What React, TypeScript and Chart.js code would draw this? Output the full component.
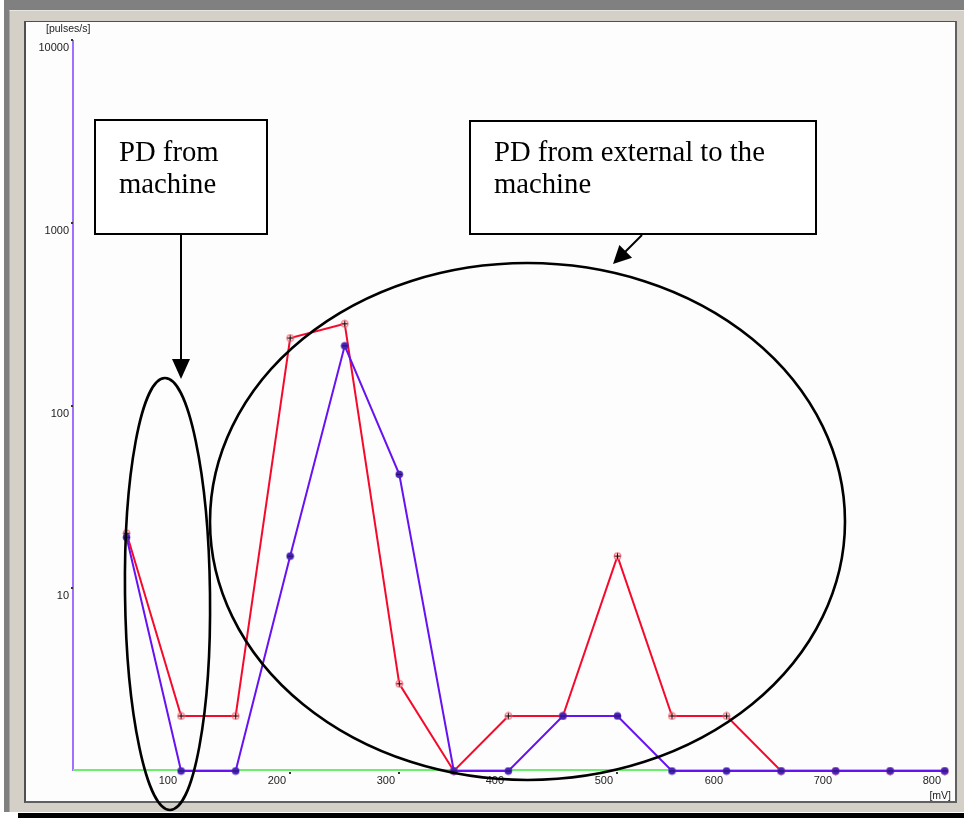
import React, { useEffect, useRef } from "react";
import { Chart, registerables } from "chart.js";

Chart.register(...registerables);

// Pulse amplitude bins [mV]
const amplitudes = [50, 100, 150, 200, 250, 300, 350, 400, 450, 500, 550, 600, 650, 700, 750, 800];
// Pulse repetition rate per bin [pulses/s]
const seriesA = [20, 2, 2, 234, 280, 3, 0, 2, 2, 15, 2, 2, 0, 0, 0, 0];
const seriesB = [19, 0, 0, 15, 212, 42, 0, 0, 2, 2, 0, 0, 0, 0, 0, 0];

const xTicks = [100, 200, 300, 400, 500, 600, 700, 800];
const yTicks = [10, 100, 1000, 10000];
const xUnit = "[mV]";
const yUnit = "[pulses/s]";

const machineLines = ["PD from", "machine"];
const externalLines = ["PD from external to the", "machine"];

const Y_MIN = 1;
const Y_MAX = 10000;
const X_MIN = 0;
const X_MAX = 803;

const RED = "#f50a2c";
const BLUE = "#6612f2";

function makeRedMarker(): HTMLCanvasElement {
  const c = document.createElement("canvas");
  c.width = 9;
  c.height = 9;
  const g = c.getContext("2d")!;
  g.beginPath();
  g.arc(4.5, 4.5, 3.5, 0, Math.PI * 2);
  g.fillStyle = "rgba(255,190,195,0.7)";
  g.fill();
  g.strokeStyle = "#ff6070";
  g.lineWidth = 1;
  g.stroke();
  g.strokeStyle = "#111";
  g.beginPath();
  g.moveTo(1.5, 4.5);
  g.lineTo(7.5, 4.5);
  g.moveTo(4.5, 1.5);
  g.lineTo(4.5, 7.5);
  g.stroke();
  return c;
}

function makeBlueMarker(): HTMLCanvasElement {
  const c = document.createElement("canvas");
  c.width = 9;
  c.height = 9;
  const g = c.getContext("2d")!;
  g.beginPath();
  g.arc(4.5, 4.5, 3.8, 0, Math.PI * 2);
  g.fillStyle = "#4a22b8";
  g.fill();
  g.strokeStyle = "#1a1060";
  g.lineWidth = 1;
  g.beginPath();
  g.moveTo(1.5, 4.5);
  g.lineTo(7.5, 4.5);
  g.stroke();
  return c;
}

function arrowHead(ctx: CanvasRenderingContext2D, x1: number, y1: number, x2: number, y2: number, len: number, half: number) {
  const a = Math.atan2(y2 - y1, x2 - x1);
  const bx = x2 - Math.cos(a) * len;
  const by = y2 - Math.sin(a) * len;
  ctx.beginPath();
  ctx.moveTo(x2, y2);
  ctx.lineTo(bx + Math.sin(a) * half, by - Math.cos(a) * half);
  ctx.lineTo(bx - Math.sin(a) * half, by + Math.cos(a) * half);
  ctx.closePath();
  ctx.fill();
}

const axesPlugin = {
  id: "scopeAxes",
  beforeDatasetsDraw(chart: any) {
    const { ctx, chartArea } = chart;
    const xs = chart.scales.x;
    const ys = chart.scales.y;
    ctx.save();
    // vertical axis
    ctx.strokeStyle = "#a070ff";
    ctx.lineWidth = 2;
    ctx.beginPath();
    ctx.moveTo(chartArea.left + 1, chartArea.top);
    ctx.lineTo(chartArea.left + 1, chartArea.bottom);
    ctx.stroke();
    // horizontal axis
    ctx.strokeStyle = "#6cf06c";
    ctx.beginPath();
    ctx.moveTo(chartArea.left + 1, chartArea.bottom - 1);
    ctx.lineTo(chartArea.right, chartArea.bottom - 1);
    ctx.stroke();

    ctx.fillStyle = "#222";
    ctx.font = '11px "Liberation Sans", Arial, sans-serif';
    ctx.textBaseline = "middle";
    ctx.textAlign = "right";
    for (const v of yTicks) {
      const py = Math.round(ys.getPixelForValue(v));
      ctx.fillStyle = "#333";
      ctx.fillRect(chartArea.left - 1, py - 1, 2, 2);
      ctx.fillStyle = "#222";
      ctx.fillText(String(v), chartArea.left - 3, py + 8);
    }
    for (const v of xTicks) {
      const px = Math.round(xs.getPixelForValue(v));
      ctx.fillStyle = "#333";
      ctx.fillRect(px - 1, chartArea.bottom + 1, 2, 2);
      ctx.fillStyle = "#222";
      ctx.fillText(String(v), px - 4, chartArea.bottom + 10);
    }
    ctx.font = '10.5px "Liberation Sans", Arial, sans-serif';
    ctx.textAlign = "left";
    ctx.fillText(yUnit, chartArea.left - 26, chartArea.top - 11);
    ctx.textAlign = "right";
    ctx.fillText(xUnit, chartArea.right + 3, chartArea.bottom + 25);
    ctx.restore();
  },
};

const notesPlugin = {
  id: "scopeNotes",
  afterDraw(chart: any) {
    const { ctx } = chart;
    ctx.save();
    ctx.strokeStyle = "#000";
    ctx.fillStyle = "#000";

    // callout boxes
    ctx.lineWidth = 2;
    ctx.fillStyle = "#fff";
    ctx.fillRect(95, 120, 172, 114);
    ctx.fillRect(470, 121, 346, 113);
    ctx.strokeRect(95, 120, 172, 114);
    ctx.strokeRect(470, 121, 346, 113);

    ctx.fillStyle = "#000";
    ctx.font = '28.7px "Liberation Serif", "Times New Roman", serif';
    ctx.textAlign = "left";
    ctx.textBaseline = "alphabetic";
    machineLines.forEach((t, i) => ctx.fillText(t, 119, 161 + i * 32));
    externalLines.forEach((t, i) => ctx.fillText(t, 494, 161 + i * 32));

    // arrows
    ctx.lineWidth = 2;
    ctx.beginPath();
    ctx.moveTo(181, 235);
    ctx.lineTo(181, 362);
    ctx.stroke();
    arrowHead(ctx, 181, 235, 181, 379, 20, 9);

    ctx.beginPath();
    ctx.moveTo(642, 235);
    ctx.lineTo(625, 252);
    ctx.stroke();
    arrowHead(ctx, 642, 235, 613, 264, 18, 9);

    // grouping ellipses
    ctx.lineWidth = 2.6;
    ctx.beginPath();
    ctx.ellipse(167.5, 594, 42.5, 216, -0.012, 0, Math.PI * 2);
    ctx.stroke();
    ctx.beginPath();
    ctx.ellipse(527.5, 521.5, 317.5, 258.5, 0, 0, Math.PI * 2);
    ctx.stroke();
    ctx.restore();
  },
};

export default function App() {
  const ref = useRef<HTMLCanvasElement | null>(null);

  useEffect(() => {
    if (!ref.current) return;
    const floor = (v: number) => (v > 0 ? v : Y_MIN);
    const chart = new Chart(ref.current, {
      type: "line",
      data: {
        datasets: [
          {
            label: "B",
            data: amplitudes.map((x, i) => ({ x, y: floor(seriesB[i]) })),
            borderColor: BLUE,
            borderWidth: 2,
            pointStyle: makeBlueMarker() as any,
            pointRadius: 4,
            clip: false as any,
            order: 0,
          },
          {
            label: "A",
            data: amplitudes.map((x, i) => ({ x, y: floor(seriesA[i]) })),
            borderColor: RED,
            borderWidth: 2,
            pointStyle: makeRedMarker() as any,
            pointRadius: 4,
            clip: false as any,
            order: 1,
          },
        ],
      },
      options: {
        responsive: false,
        animation: false,
        devicePixelRatio: 1,
        layout: { padding: { left: 72, top: 40, right: 16, bottom: 47 } },
        plugins: { legend: { display: false }, tooltip: { enabled: false } },
        elements: { line: { tension: 0 } },
        scales: {
          x: {
            type: "linear",
            min: X_MIN,
            max: X_MAX,
            grid: { display: false },
            border: { display: false },
            ticks: { display: false },
            afterFit: (s: any) => {
              s.height = 0;
            },
          },
          y: {
            type: "logarithmic",
            min: Y_MIN,
            max: Y_MAX,
            grid: { display: false },
            border: { display: false },
            ticks: { display: false },
            afterFit: (s: any) => {
              s.width = 0;
            },
          },
        },
      },
      plugins: [axesPlugin, notesPlugin],
    });
    return () => chart.destroy();
  }, []);

  return (
    <div style={{ position: "fixed", left: 0, top: 0, width: 964, height: 818, background: "#fff", overflow: "hidden" }}>
      <div style={{ position: "absolute", left: 4, top: 0, right: 0, height: 812, background: "#808080" }} />
      <div style={{ position: "absolute", left: 9, top: 10, right: 0, height: 802, background: "#d4d0c8", borderTop: "1px solid #e8e6e0", borderLeft: "1px solid #a8a6a0", boxSizing: "border-box" }} />
      <div
        style={{
          position: "absolute",
          left: 24,
          top: 21,
          width: 933,
          height: 782,
          background: "#fdfdfd",
          borderLeft: "2px solid #505050",
          borderTop: "1px solid #505050",
          borderRight: "2px solid #606060",
          borderBottom: "2px solid #606060",
          boxSizing: "border-box",
        }}
      />
      <div style={{ position: "absolute", left: 18, top: 813, right: 0, height: 5, background: "#000" }} />
      <canvas ref={ref} width={964} height={818} style={{ position: "absolute", left: 0, top: 0 }} />
    </div>
  );
}
